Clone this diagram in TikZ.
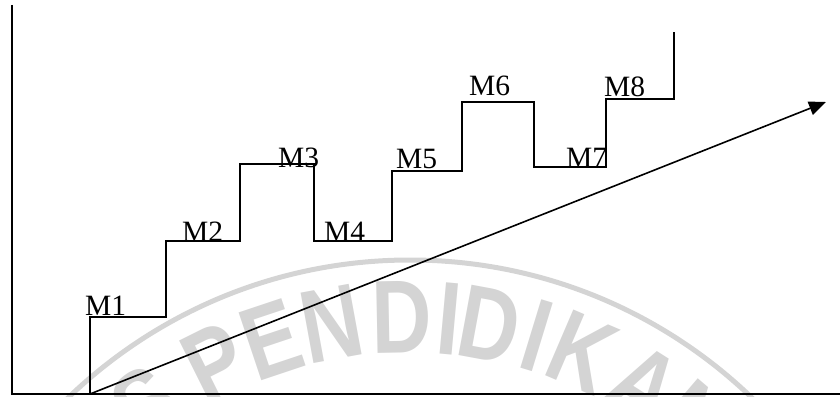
\documentclass[tikz,border=0pt]{standalone}
\usepackage{fontspec}
\setmainfont{Liberation Serif}
\newfontfamily\wmfont[FakeStretch=0.8]{Liberation Sans Bold}
\usetikzlibrary{arrows.meta,calc}
\definecolor{wmgray}{RGB}{212,212,212}
\tikzset{
  axisline/.style={line width=1.8pt},
  stairline/.style={line width=1.6pt, line join=miter},
  trendline/.style={line width=1.6pt, -{Triangle[length=17pt,width=14pt]}},
  mlabel/.style={anchor=base west, inner sep=0pt, font=\fontsize{29.5}{30}\selectfont},
  wmletter/.style={inner sep=0pt, text=wmgray, font=\wmfont\fontsize{104}{104}\selectfont}
}
\begin{document}
\begin{tikzpicture}[x=1pt, y=-1pt]
\useasboundingbox (0,0) rectangle (840,396);
\begin{scope}
  \clip (0,0) rectangle (840,396);
  % faint seal in the background
  \coordinate (sealc) at (410,753);
  \draw[wmgray, line width=5pt] (sealc) circle[radius=493];
  \foreach \ch/\ang in {S/127, P/116.5, E/108.5, N/100.4, D/91.1, I/84.8, D/79.5, I/73, K/66.8, A/57.5, N/49.5}{
    \node[wmletter, rotate=\ang-90] at ($(sealc)+({436*cos(\ang)},{-436*sin(\ang)})$) {\ch};
  }
\end{scope}

% axes
\coordinate (ytop) at (12,5);
\coordinate (orig) at (12,394);
\coordinate (xend) at (840,394);
\draw[axisline] (ytop) -- (orig) -- (xend);

% staircase corners
\coordinate (s0) at (90,394);
\coordinate (s1) at (90,317);
\coordinate (s2) at (166,317);
\coordinate (s3) at (166,241);
\coordinate (s4) at (240,241);
\coordinate (s5) at (240,164);
\coordinate (s6) at (314,164);
\coordinate (s7) at (314,241);
\coordinate (s8) at (392,241);
\coordinate (s9) at (392,171);
\coordinate (s10) at (462,171);
\coordinate (s11) at (462,102);
\coordinate (s12) at (534,102);
\coordinate (s13) at (534,167);
\coordinate (s14) at (606,167);
\coordinate (s15) at (606,99);
\coordinate (s16) at (674,99);
\coordinate (s17) at (674,32);
\draw[stairline] (s0) -- (s1) -- (s2) -- (s3) -- (s4) -- (s5) -- (s6) -- (s7) -- (s8)
  -- (s9) -- (s10) -- (s11) -- (s12) -- (s13) -- (s14) -- (s15) -- (s16) -- (s17);

% rising trend arrow
\coordinate (tip) at (826,102);
\draw[trendline] (s0) -- (tip);

% step labels
\node[mlabel] (m1) at (85,315) {M1};
\node[mlabel] (m2) at (182,241) {M2};
\node[mlabel] (m3) at (278,167) {M3};
\node[mlabel] (m4) at (324,241) {M4};
\node[mlabel] (m5) at (396,168) {M5};
\node[mlabel] (m6) at (469,95) {M6};
\node[mlabel] (m7) at (566,167) {M7};
\node[mlabel] (m8) at (604,96) {M8};
\end{tikzpicture}
\end{document}
